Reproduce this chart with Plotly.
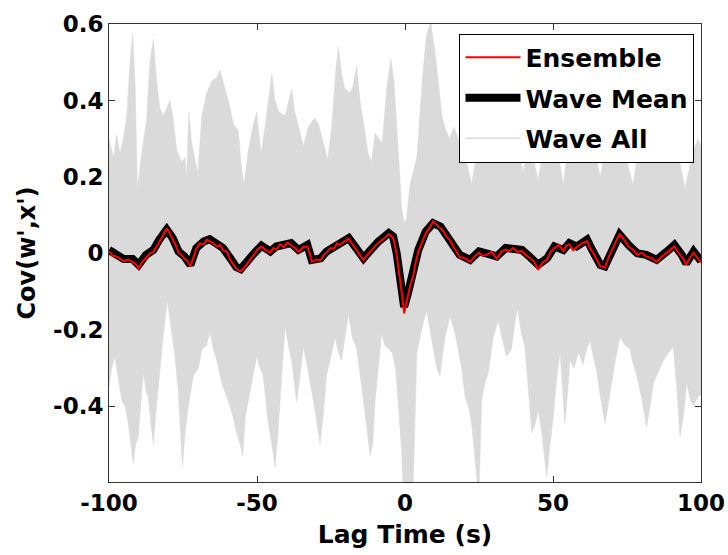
#### Load Libraries ####
import plotly.graph_objects as go

#### Data ####
# wave mean (black thick line)
mean_lag = [-100, -97.5, -95, -92, -90, -87.5, -85, -83, -80.5, -78.5, -76.5, -74.5, -72.5,
            -70.5, -68, -66, -63.5, -61.5, -59, -57, -55.5, -53.5, -51, -48.5, -45.5, -43.5,
            -41, -38.5, -36, -33, -31.5, -28.5, -26.5, -24, -22, -19, -16.5, -14, -12, -9,
            -5.5, -4, -2.8, -1.7, -0.3, 1, 2.8, 4.5, 7, 9.5, 12, 14, 16.5, 18.5, 22, 25, 27.5,
            31, 34, 36.5, 39.5, 42, 45, 48, 50.5, 53.5, 55.5, 58, 61.5, 63.5, 66, 67.5, 70,
            72.5, 75.5, 78.5, 81.5, 85, 88.5, 91, 93.5, 95, 97.5, 100]
mean_cov = [0.009, -0.004, -0.015, -0.015, -0.030, -0.004, 0.009, 0.036, 0.062, 0.040, 0.005,
            -0.008, -0.030, 0.014, 0.031, 0.037, 0.022, 0.014, -0.013, -0.036, -0.041, -0.026,
            0.000, 0.020, 0.005, 0.018, 0.022, 0.027, 0.009, 0.022, -0.017, -0.013, 0.005,
            0.018, 0.027, 0.040, 0.014, -0.013, 0.005, 0.031, 0.053, 0.044, 0.000, -0.070,
            -0.140, -0.104, -0.052, 0.009, 0.057, 0.079, 0.070, 0.049, 0.022, -0.004, -0.017,
            0.005, 0.000, -0.008, 0.014, 0.014, 0.009, -0.008, -0.030, -0.013, 0.018, 0.009,
            0.027, 0.018, 0.036, 0.005, -0.030, -0.034, 0.014, 0.049, 0.022, 0.000, -0.004,
            -0.017, 0.005, 0.022, -0.004, -0.026, 0.005, -0.020]

# ensemble (red thin line)
ens_lag = [-100, -98.8, -97.5, -96.2, -95, -93.5, -92, -91, -90, -88.8, -87.5, -86.2, -85, -84,
           -83, -81.8, -80.5, -79.5, -78.5, -77.5, -76.5, -75.5, -74.5, -73.5, -72.5, -71.5,
           -70.5, -69.3, -68, -67, -66, -64.8, -63.5, -62.5, -61.5, -60.2, -59, -58, -57,
           -55.5, -54.5, -53.5, -52.3, -51, -49.8, -48.5, -47, -45.5, -44.5, -43.5, -42.2,
           -41, -39.8, -38.5, -37.2, -36, -34.5, -33, -32.2, -31.5, -30, -28.5, -27.5, -26.5,
           -25.2, -24, -23, -22, -20.5, -19, -17.8, -16.5, -15.2, -14, -13, -12, -10.5, -9,
           -7.2, -5.5, -4.7, -4, -3.4, -2.8, -2.2, -1.7, -1, -0.3, 0.3, 1, 1.9, 2.8, 3.6, 4.5,
           5.8, 7, 8.2, 9.5, 10.8, 12, 13, 14, 15.2, 16.5, 17.5, 18.5, 20.2, 22, 23.5, 25,
           26.2, 27.5, 29.2, 31, 32.5, 34, 35.2, 36.5, 38, 39.5, 40.8, 42, 43.5, 45, 46.5, 48,
           49.2, 50.5, 52, 53.5, 54.5, 55.5, 56.8, 58, 59.8, 61.5, 62.5, 63.5, 64.8, 66, 67,
           67.5, 68.8, 70, 71.2, 72.5, 74, 75.5, 77, 78.5, 80, 81.5, 83.2, 85, 86.8, 88.5,
           89.8, 91, 92.2, 93.5, 94.3, 95, 96.2, 97.5, 98.8, 100]
ens_cov = [0.006, -0.006, -0.008, -0.014, -0.020, -0.016, -0.024, -0.028, -0.039, -0.022,
           -0.012, 0.000, 0.004, 0.016, 0.030, 0.046, 0.066, 0.052, 0.038, 0.022, 0.002,
           -0.004, -0.014, -0.020, -0.034, -0.008, 0.012, 0.026, 0.024, 0.036, 0.032, 0.026,
           0.018, 0.022, 0.008, 0.004, -0.018, -0.028, -0.040, -0.047, -0.038, -0.030, -0.016,
           -0.004, 0.010, 0.018, 0.008, 0.002, 0.014, 0.010, 0.024, 0.016, 0.028, 0.022, 0.014,
           0.004, 0.016, 0.018, 0.000, -0.022, -0.016, -0.018, -0.004, 0.002, 0.014, 0.012,
           0.026, 0.022, 0.032, 0.038, 0.024, 0.010, -0.004, -0.018, -0.006, 0.002, 0.014,
           0.028, 0.038, 0.050, 0.046, 0.040, 0.020, -0.004, -0.040, -0.076, -0.110, -0.157,
           -0.130, -0.110, -0.080, -0.058, -0.024, 0.004, 0.030, 0.052, 0.066, 0.084, 0.074,
           0.066, 0.058, 0.044, 0.034, 0.016, 0.004, -0.010, -0.012, -0.022, -0.008, 0.002,
           -0.006, -0.004, 0.004, -0.014, 0.004, 0.010, 0.006, 0.014, 0.004, 0.006, -0.004,
           -0.012, -0.020, -0.043, -0.024, -0.016, 0.004, 0.014, 0.022, 0.006, 0.020, 0.024,
           0.008, 0.016, 0.026, 0.032, 0.014, 0.002, -0.016, -0.034, -0.036, -0.038, -0.010,
           0.012, 0.030, 0.050, 0.036, 0.018, 0.010, -0.004, 0.002, -0.008, -0.012, -0.022,
           -0.008, 0.002, 0.010, 0.018, 0.004, -0.008, -0.018, -0.030, -0.012, 0.002, -0.010,
           -0.024]

# envelope of all wave traces (light gray band), top edge
upper_lag = [-100, -98.5, -97.4, -96.3, -95.2, -94, -92.9, -92, -91.2, -90.4, -89, -87.3, -86.2,
             -85, -83.9, -82.8, -81.6, -80.5, -79.4, -78.3, -77.1, -75.5, -74.3, -73.8, -73,
             -72.1, -71, -70, -68.7, -67, -65.3, -63.6, -62.5, -61.4, -59.7, -58, -56.3, -55.2,
             -54.4, -52.9, -51.2, -50.1, -48.6, -47.3, -45.9, -45, -43.9, -42.6, -40.5, -39.2,
             -38.3, -37.2, -35.8, -34.3, -32.7, -30.6, -29.3, -27.6, -26.1, -24.8, -23.4, -22.5,
             -21.4, -20.3, -18.6, -17.5, -16.3, -15.2, -13.7, -12.4, -11.3, -10.1, -8.8, -7.7,
             -6.2, -4.8, -3.7, -2.8, -1.9, -1.1, -0.3, 0.5, 1.7, 3, 4, 5, 5.8, 7.2, 8.7, 10.1,
             11.5, 12.5, 13.5, 15, 16.5, 18, 20, 22.5, 24.5, 27, 29, 31, 33, 35, 37, 40, 42, 45,
             47, 50, 52, 53.5, 55, 58, 61, 63, 66, 68, 71, 74, 77, 79, 81, 84, 87, 90, 92, 94.6,
             96, 97.5, 99, 100]
upper_cov = [0.30, 0.25, 0.31, 0.26, 0.30, 0.36, 0.50, 0.575, 0.45, 0.17, 0.26, 0.35, 0.50,
             0.56, 0.45, 0.38, 0.36, 0.38, 0.40, 0.35, 0.27, 0.24, 0.25, 0.19, 0.37, 0.29,
             0.25, 0.21, 0.355, 0.42, 0.45, 0.46, 0.48, 0.45, 0.40, 0.34, 0.32, 0.22, 0.18,
             0.27, 0.34, 0.37, 0.26, 0.33, 0.42, 0.47, 0.40, 0.37, 0.36, 0.40, 0.43, 0.37,
             0.33, 0.28, 0.33, 0.355, 0.34, 0.29, 0.245, 0.33, 0.48, 0.54, 0.47, 0.43, 0.42,
             0.44, 0.49, 0.40, 0.33, 0.26, 0.24, 0.315, 0.30, 0.29, 0.43, 0.51, 0.45, 0.33,
             0.22, 0.12, 0.08, 0.09, 0.18, 0.22, 0.25, 0.36, 0.45, 0.57, 0.605, 0.53, 0.42,
             0.36, 0.33, 0.30, 0.33, 0.30, 0.27, 0.18, 0.28, 0.35, 0.30, 0.33, 0.27, 0.34,
             0.30, 0.215, 0.30, 0.19, 0.30, 0.32, 0.25, 0.18, 0.28, 0.33, 0.28, 0.30, 0.20,
             0.30, 0.33, 0.27, 0.18, 0.28, 0.32, 0.26, 0.30, 0.25, 0.27, 0.17, 0.22, 0.27,
             0.30, 0.28]

# envelope of all wave traces, bottom edge
lower_lag = [-100, -99.1, -98, -96.8, -95.7, -94.6, -93.5, -92.6, -91.8, -91, -90.1, -89.2,
             -88.4, -87.5, -86.7, -85.8, -85, -84.2, -83.3, -81.6, -80.3, -78.8, -77.7, -76.6,
             -75.2, -74.3, -73.2, -71.5, -69.8, -68.5, -67, -65.9, -64.8, -63.6, -61.9, -60.8,
             -59.1, -58, -56.9, -55.7, -54.8, -54, -52.9, -51.8, -50.1, -49, -47.9, -46.2, -45,
             -43.9, -43, -42.2, -41.4, -40.5, -39.4, -38.3, -36.6, -35.5, -34.3, -32.9, -31.5,
             -30.2, -28.7, -27.6, -26.5, -25, -23.6, -22.5, -21.4, -20.3, -19.1, -17.8, -16.3,
             -15.2, -14.1, -13, -11.8, -10.9, -10.1, -9, -7.9, -6.8, -5.7, -4.3, -3.2, -2, -1.1,
             -0.8, 2.8, 4, 5.1, 6.2, 7.3, 8.4, 9.6, 10.7, 11.8, 13.5, 15.2, 16.6, 18, 19.1, 20.3,
             21.4, 22.5, 23.6, 24.4, 25.1, 25.9, 27, 28.2, 29.8, 31.5, 33, 34.3, 36, 37.2, 38,
             39.1, 40.5, 41.7, 42.8, 43.9, 45, 46.2, 47.9, 49, 50.1, 51.2, 52.4, 53.3, 54, 55,
             55.7, 57.1, 58.6, 60.2, 61.4, 62.5, 63.6, 64.8, 66.1, 67.6, 68.7, 69.8, 71.3, 72.6,
             74.3, 76, 77.1, 78.3, 80, 81.6, 82.8, 83.9, 85.6, 87.3, 89, 90.6, 91.8, 92.9, 94,
             95.2, 96.3, 97.4, 99.1, 100]
lower_cov = [-0.35, -0.30, -0.27, -0.33, -0.385, -0.40, -0.445, -0.50, -0.55, -0.50, -0.48,
             -0.40, -0.31, -0.36, -0.375, -0.45, -0.50, -0.42, -0.34, -0.21, -0.122, -0.21,
             -0.27, -0.36, -0.56, -0.47, -0.40, -0.32, -0.30, -0.25, -0.24, -0.205, -0.25,
             -0.28, -0.34, -0.36, -0.40, -0.43, -0.47, -0.50, -0.53, -0.43, -0.38, -0.34,
             -0.27, -0.30, -0.32, -0.445, -0.50, -0.56, -0.48, -0.385, -0.28, -0.19, -0.24,
             -0.28, -0.39, -0.33, -0.245, -0.30, -0.36, -0.42, -0.50, -0.42, -0.32, -0.27,
             -0.22, -0.26, -0.28, -0.22, -0.16, -0.22, -0.25, -0.32, -0.385, -0.45, -0.53,
             -0.50, -0.385, -0.30, -0.21, -0.24, -0.25, -0.26, -0.30, -0.42, -0.52, -0.60,
             -0.60, -0.26, -0.22, -0.18, -0.15, -0.20, -0.25, -0.30, -0.32, -0.22, -0.166,
             -0.20, -0.25, -0.30, -0.375, -0.40, -0.445, -0.53, -0.60, -0.60, -0.385, -0.34,
             -0.31, -0.22, -0.175, -0.23, -0.27, -0.25, -0.18, -0.144, -0.20, -0.245, -0.36,
             -0.47, -0.45, -0.41, -0.47, -0.585, -0.50, -0.43, -0.33, -0.26, -0.37, -0.445,
             -0.36, -0.28, -0.30, -0.26, -0.29, -0.25, -0.23, -0.27, -0.31, -0.38, -0.445,
             -0.40, -0.34, -0.27, -0.22, -0.24, -0.25, -0.29, -0.32, -0.38, -0.455, -0.40,
             -0.34, -0.31, -0.28, -0.26, -0.245, -0.35, -0.48, -0.43, -0.34, -0.38, -0.40,
             -0.375, -0.37]

x_ticks = [-100, -50, 0, 50, 100]
x_tick_text = ["-100", "-50", "0", "50", "100"]
y_ticks = [-0.4, -0.2, 0, 0.2, 0.4, 0.6]
y_tick_text = ["-0.4", "-0.2", "0", "0.2", "0.4", "0.6"]

GRAY = "rgb(218,218,218)"
FONT = "DejaVu Sans"


#### Build Figure ####
def main():
    fig = go.Figure()

    # gray band: top edge left->right, then bottom edge right->left
    band_x = upper_lag + lower_lag[::-1]
    band_y = upper_cov + lower_cov[::-1]
    fig.add_trace(go.Scatter(x=band_x, y=band_y, fill="toself", fillcolor=GRAY,
                             line=dict(color=GRAY, width=0.5), mode="lines",
                             showlegend=False, hoverinfo="skip"))

    fig.add_trace(go.Scatter(x=mean_lag, y=mean_cov, mode="lines", name="Wave Mean",
                             line=dict(color="black", width=8), legendrank=2,
                             legendgroup="b"))
    fig.add_trace(go.Scatter(x=ens_lag, y=ens_cov, mode="lines", name="Ensemble",
                             line=dict(color="red", width=2), legendrank=1,
                             legendgroup="a"))
    # legend entry for the gray traces
    fig.add_trace(go.Scatter(x=[None], y=[None], mode="lines", name="Wave All",
                             line=dict(color=GRAY, width=1.5), legendrank=3,
                             legendgroup="c"))

    axis_common = dict(showgrid=False, zeroline=False, showline=True, linecolor="#333",
                       linewidth=1, mirror="ticks", ticks="inside", ticklen=6,
                       tickcolor="#333", layer="below traces", automargin=False,
                       tickfont=dict(family=FONT, size=23, color="black", weight="bold"))

    fig.update_layout(
        width=728, height=555,
        margin=dict(l=109, r=27, t=24, b=73),
        paper_bgcolor="white", plot_bgcolor="white",
        xaxis=dict(range=[-100, 100], tickvals=x_ticks, ticktext=x_tick_text,
                   title=dict(text="Lag Time (s)", standoff=10,
                              font=dict(family=FONT, size=25, color="black", weight="bold")),
                   **axis_common),
        yaxis=dict(range=[-0.598, 0.6], tickvals=y_ticks, ticktext=y_tick_text,
                   title=dict(text="Cov(w',x')", standoff=10,
                              font=dict(family=FONT, size=24, color="black", weight="bold")),
                   **axis_common),
        legend=dict(x=0.989, y=0.979, xanchor="right", yanchor="top",
                    bgcolor="white", bordercolor="black", borderwidth=1,
                    tracegroupgap=5, traceorder="grouped", itemwidth=55,
                    font=dict(family=FONT, size=25, color="black", weight="bold")),
    )

    # page body has a default 8px margin; drop it so the figure sits at the corner
    fig.write_html("out.html", config={"displayModeBar": False},
                   post_script="document.body.style.margin='0';")


if __name__ == '__main__':
    main()
